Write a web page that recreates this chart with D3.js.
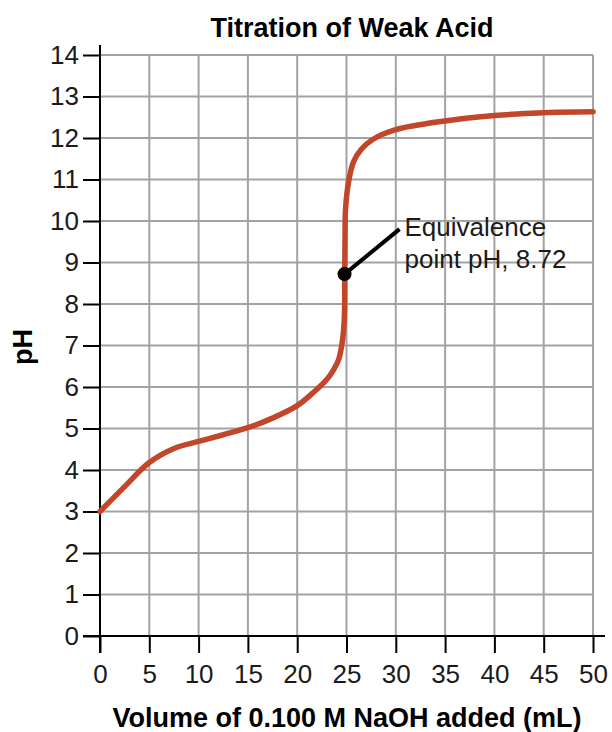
<!DOCTYPE html>
<html>
<head>
<meta charset="utf-8">
<script src="https://cdn.jsdelivr.net/npm/d3@7"></script>
<style>
  html, body { margin: 0; padding: 0; background: #fff; }
  svg { display: block; font-family: "Liberation Sans", Arial, sans-serif; }
</style>
</head>
<body>
<svg id="chart" width="612" height="732"></svg>
<script>
// titration curve
const volume = [0, 2.5, 5, 7.5, 10, 12.5, 15, 17.5, 20, 21.6, 23, 23.7, 24.2, 24.5, 24.68, 24.8, 24.82, 24.85, 24.9, 25.2, 25.7, 26.5, 27.7, 30, 35, 40, 45, 50];
const pH     = [3.0, 3.6, 4.18, 4.52, 4.69, 4.85, 5.02, 5.25, 5.55, 5.86, 6.18, 6.42, 6.66, 6.98, 7.3, 7.8, 8.72, 9.6, 10.28, 10.93, 11.42, 11.73, 11.97, 12.2, 12.41, 12.54, 12.61, 12.63];

const xTicks = [0, 5, 10, 15, 20, 25, 30, 35, 40, 45, 50];
const yTicks = [0, 1, 2, 3, 4, 5, 6, 7, 8, 9, 10, 11, 12, 13, 14];

const eqVolume = 24.8, eqPH = 8.72;
const eqLabel = ["Equivalence", "point pH, 8.72"];

const title  = "Titration of Weak Acid";
const xTitle = "Volume of 0.100 M NaOH added (mL)";
const yTitle = "pH";

/* ——— scales ——————————————————————————— */
const svg = d3.select("#chart");
const x = d3.scaleLinear([0, 50], [100, 593]);
const y = d3.scaleLinear([0, 14], [636, 55]);

const GRID = "#a3a3a3", CURVE = "#c1462a";

/* ——— grid ——————————————————————————— */
const grid = svg.append("g").attr("stroke", GRID).attr("stroke-width", 2);
grid.selectAll(".v").data(xTicks.filter(d => d > 0)).join("line")
    .attr("x1", d => x(d)).attr("x2", d => x(d))
    .attr("y1", y(0)).attr("y2", y(14));
grid.selectAll(".h").data(yTicks.filter(d => d > 0)).join("line")
    .attr("x1", x(0)).attr("x2", x(50))
    .attr("y1", d => y(d)).attr("y2", d => y(d));

/* ——— axes ——————————————————————————— */
const yAxis = svg.append("g")
  .attr("transform", `translate(${x(0)},0)`)
  .call(d3.axisLeft(y).tickValues(yTicks).tickSize(17).tickPadding(4));
const xAxis = svg.append("g")
  .attr("transform", `translate(0,${y(0)})`)
  .call(d3.axisBottom(x).tickValues(xTicks).tickSize(17).tickPadding(12));

for (const g of [xAxis, yAxis]) {
  g.select(".domain").remove();
  g.selectAll(".tick line").attr("stroke", "#000").attr("stroke-width", 2);
  g.selectAll(".tick text")
    .attr("fill", "#1a1a1a")
    .attr("font-size", 26)
    .attr("font-family", "Liberation Sans, Arial, sans-serif");
}

// axis lines run a little past the ends
svg.append("line")
  .attr("x1", x(0)).attr("x2", x(0))
  .attr("y1", y(14) - 10).attr("y2", y(0) + 17)
  .attr("stroke", "#000").attr("stroke-width", 2);
svg.append("line")
  .attr("x1", x(0) - 17).attr("x2", x(50) + 12)
  .attr("y1", y(0)).attr("y2", y(0))
  .attr("stroke", "#000").attr("stroke-width", 2);

/* ——— curve ——————————————————————————— */
const pts = volume.map((v, i) => [v, pH[i]]);
svg.append("path")
  .datum(pts)
  .attr("fill", "none")
  .attr("stroke", CURVE)
  .attr("stroke-width", 5.5)
  .attr("stroke-linecap", "round")
  .attr("d", d3.line().x(d => x(d[0])).y(d => y(d[1])).curve(d3.curveCatmullRom.alpha(0.5)));

/* ——— equivalence point ——————————————— */
svg.append("line")
  .attr("x1", x(eqVolume)).attr("y1", y(eqPH))
  .attr("x2", x(eqVolume) + 55).attr("y2", y(eqPH) - 45)
  .attr("stroke", "#000").attr("stroke-width", 4);
svg.append("circle")
  .attr("cx", x(eqVolume)).attr("cy", y(eqPH)).attr("r", 7)
  .attr("fill", "#000");
svg.append("text")
  .attr("x", x(eqVolume) + 61).attr("y", y(eqPH) - 38)
  .attr("font-size", 26).attr("fill", "#1a1a1a")
  .selectAll("tspan").data(eqLabel).join("tspan")
    .attr("x", x(eqVolume) + 60)
    .attr("dy", (d, i) => i ? 31.5 : 0)
    .text(d => d);

/* ——— titles ——————————————————————————— */
svg.append("text")
  .attr("x", 352).attr("y", 37)
  .attr("text-anchor", "middle")
  .attr("font-size", 27).attr("font-weight", "bold")
  .text(title);
svg.append("text")
  .attr("x", 347).attr("y", 727)
  .attr("text-anchor", "middle")
  .attr("font-size", 27).attr("font-weight", "bold")
  .text(xTitle);
svg.append("text")
  .attr("transform", "translate(32,347) rotate(-90)")
  .attr("text-anchor", "middle")
  .attr("font-size", 27).attr("font-weight", "bold")
  .text(yTitle);
</script>
</body>
</html>
